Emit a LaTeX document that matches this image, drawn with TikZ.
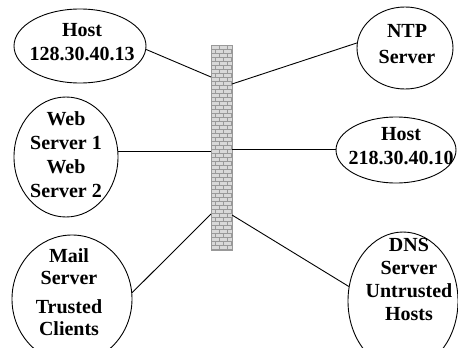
\documentclass[tikz,border=0pt]{standalone}
\usepackage{fontspec}
\setmainfont{Liberation Serif}
\usetikzlibrary{shapes.geometric}
\tikzset{
  host/.style={draw, line width=0.9pt, ellipse, inner sep=0pt},
  lbl/.style={anchor=base, align=center, inner sep=0pt, font=\bfseries\fontsize{20}{24}\selectfont},
  link/.style={draw, line width=0.9pt},
  mortar/.style={draw=gray!80, line width=0.5pt},
}
\begin{document}
\begin{tikzpicture}[x=1pt,y=-1pt]
\useasboundingbox (0,0) rectangle (458,348);
% ellipses
\node[host, minimum width=132pt, minimum height=74pt] (h1) at (80,46) {};
\node[host, minimum width=96pt, minimum height=82pt] (ntp) at (405,48) {};
\node[host, minimum width=104pt, minimum height=120pt] (web) at (66,157) {};
\node[host, minimum width=120pt, minimum height=66pt] (h2) at (396,150) {};
\node[host, minimum width=120pt, minimum height=128pt] (mail) at (72,299) {};
\node[host, minimum width=110pt, minimum height=138pt] (dns) at (403,301) {};
% labels (anchored at the baseline of the last line)
\node[lbl] (t1) at (82,60) {Host\\128.30.40.13};
\node[lbl, font=\bfseries\fontsize{20}{25}\selectfont] (t2) at (407,63) {NTP\\Server};
\node[lbl] (t3) at (66,197) {Web\\Server 1\\Web\\Server 2};
\node[lbl] (t4) at (401,164) {Host\\218.30.40.10};
\node[lbl, font=\bfseries\fontsize{20}{22}\selectfont] (t5) at (69,335) {Mail\\Server\\[7pt]Trusted\\Clients};
\node[lbl, font=\bfseries\fontsize{20}{22.7}\selectfont] (t6) at (409,320) {DNS\\Server\\Untrusted\\Hosts};
% wall
\begin{scope}
\clip (211,45) rectangle (232,250);
\fill[gray!30] (211,45) rectangle (232,250);
\foreach \i in {0,...,51} {
  \pgfmathsetmacro{\yy}{45+4*\i}
  \pgfmathsetmacro{\off}{mod(\i,2)*4}
  \draw[mortar] (211,\yy) -- (232,\yy);
  \foreach \k in {0,...,3} {
    \draw[mortar] (211+\off+8*\k,\yy) -- (211+\off+8*\k,\yy+4);
  }
}
\end{scope}
\draw[draw=gray!80, line width=0.6pt] (211,45) rectangle (232,250);
% wall connection points
\coordinate (w1) at (211,77);
\coordinate (w2) at (232,84);
\coordinate (w3) at (211,151);
\coordinate (w4) at (232,149);
\coordinate (w5) at (211,214);
\coordinate (w6) at (232,215);
% links
\draw[link] (h1.-3) -- (w1);
\draw[link] (ntp.174) -- (w2);
\draw[link] (web.east |- w3) -- (w3);
\draw[link] (h2.west |- w4) -- (w4);
\draw[link] (mail.6) -- (w5);
\draw[link] (dns.165) -- (w6);
\end{tikzpicture}
\end{document}
